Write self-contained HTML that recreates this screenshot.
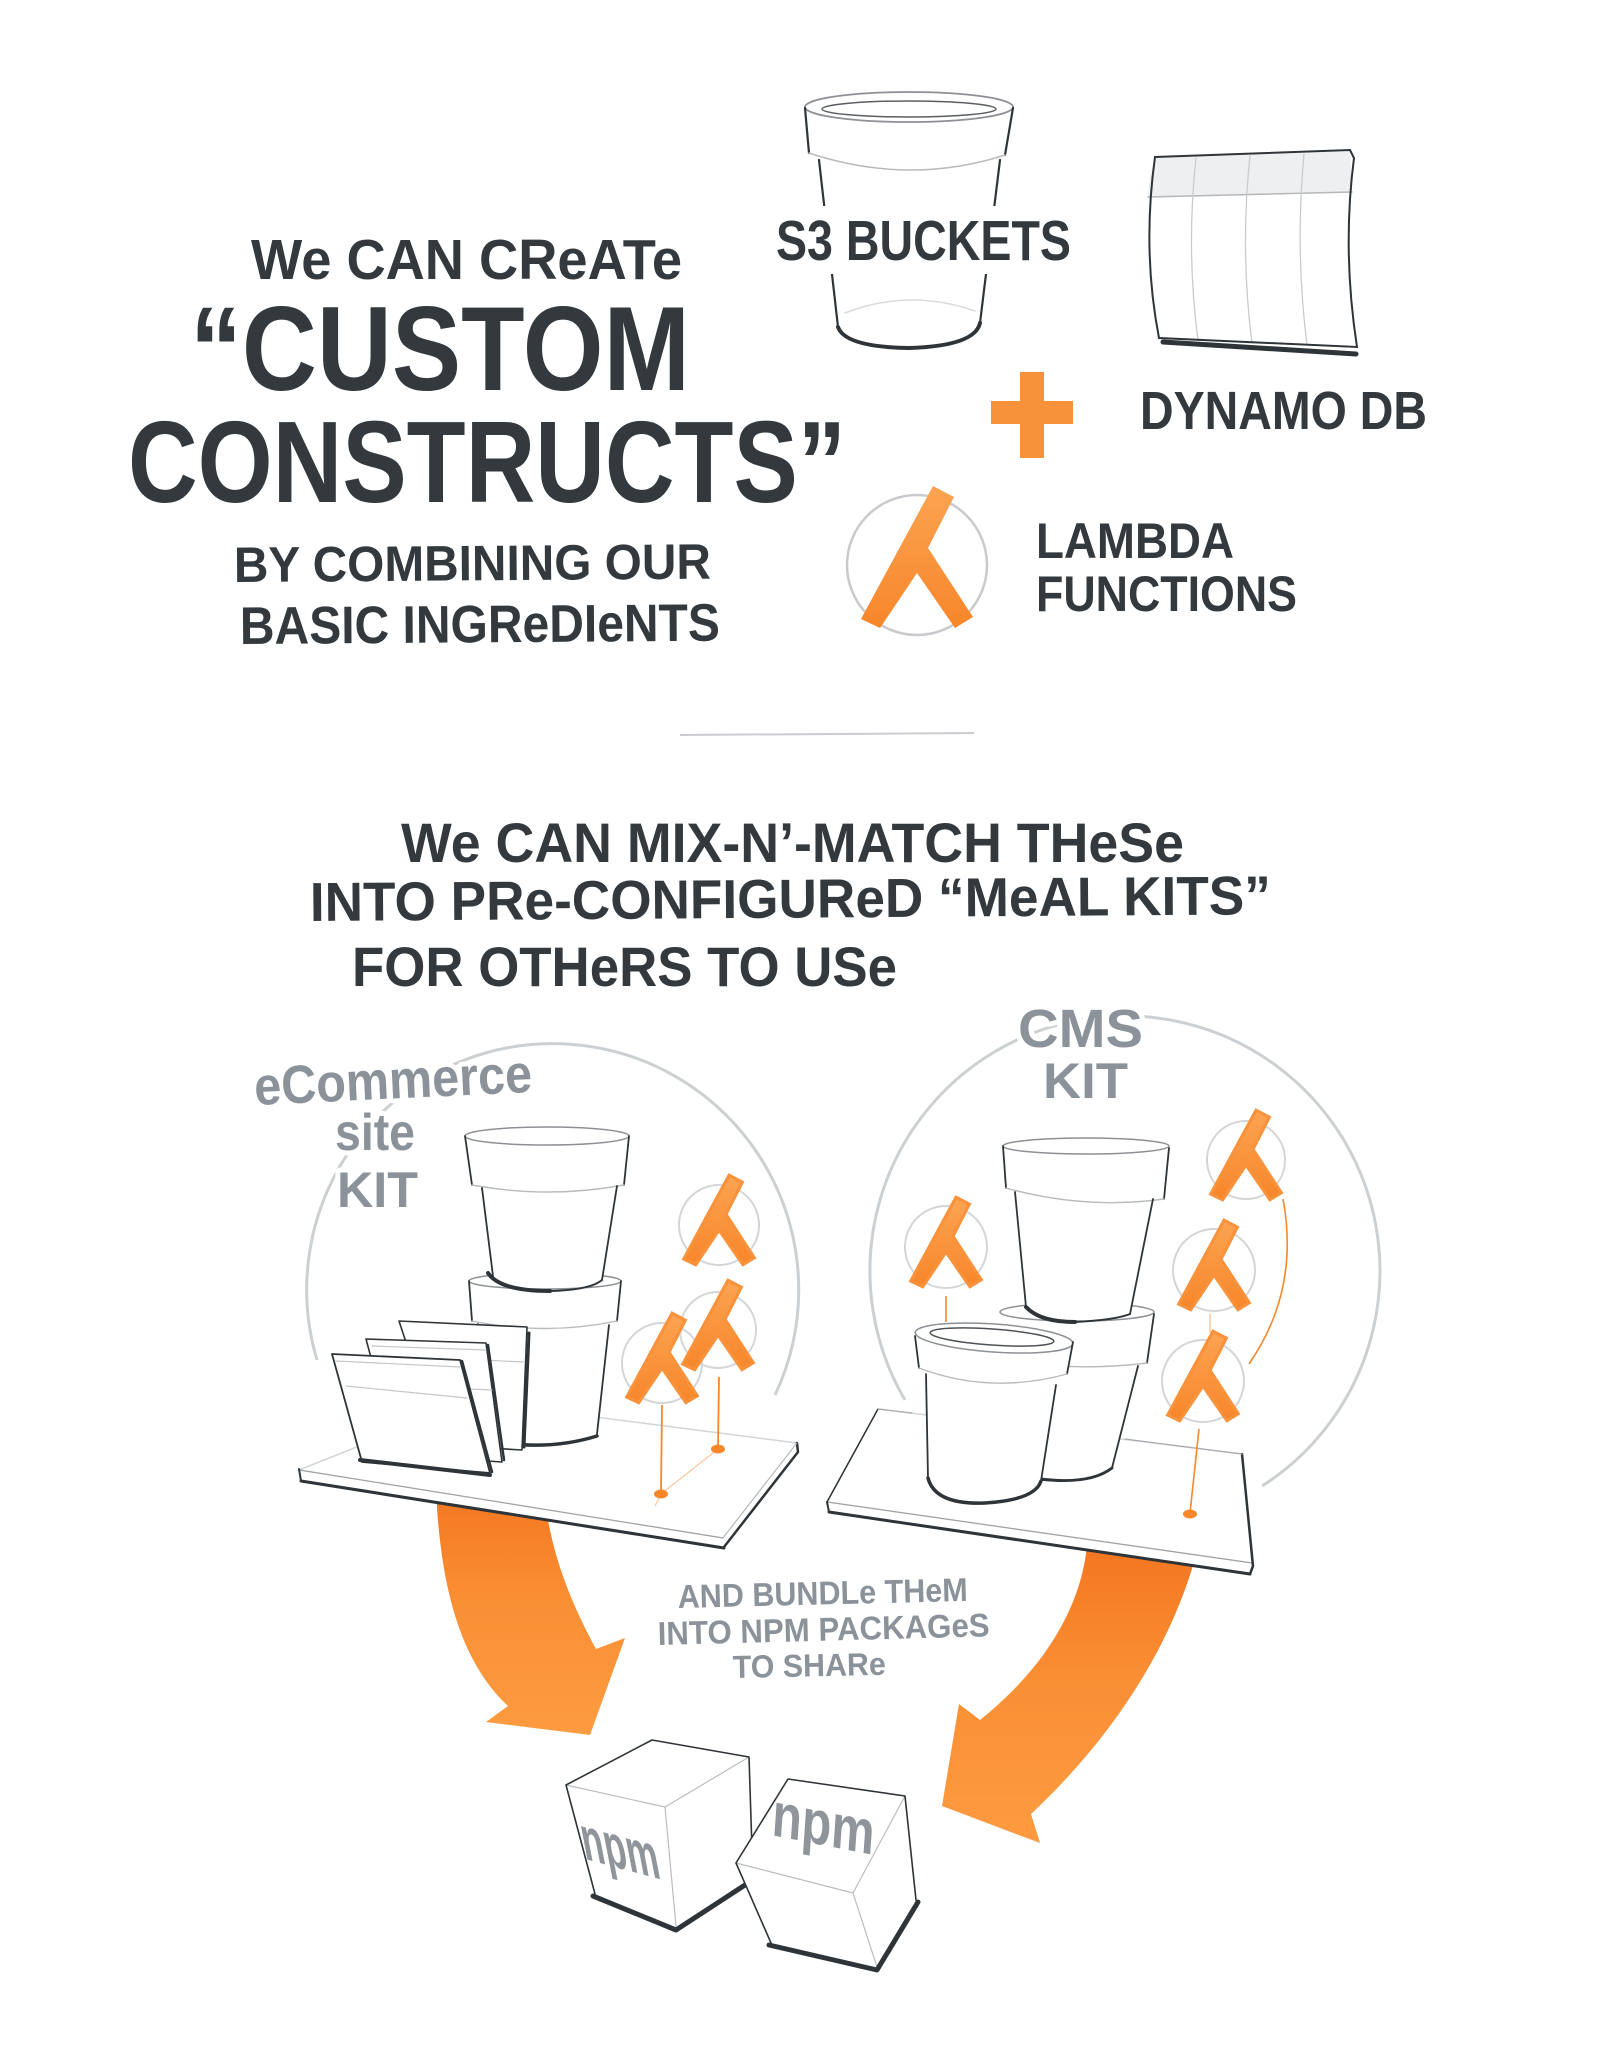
<!DOCTYPE html>
<html><head><meta charset="utf-8">
<style>
html,body{margin:0;padding:0;background:#fff;}
svg{display:block;}
.d{font-family:"Liberation Sans",sans-serif;font-weight:700;fill:#33393d;}
.g{font-family:"Liberation Sans",sans-serif;font-weight:700;fill:#8b9299;}
.h{stroke:#fff;stroke-width:10;paint-order:stroke;stroke-linejoin:round;}
</style></head><body>
<svg width="1600" height="2055" viewBox="0 0 1600 2055" xmlns="http://www.w3.org/2000/svg">
<defs>
 <linearGradient id="og" x1="0" y1="0" x2="0" y2="1"><stop offset="0" stop-color="#fca452"/><stop offset="1" stop-color="#f7862a"/></linearGradient>
 <linearGradient id="ag" x1="0" y1="0" x2="0" y2="1"><stop offset="0" stop-color="#f47620"/><stop offset="0.45" stop-color="#fa8f34"/><stop offset="1" stop-color="#fd9b40"/></linearGradient>
 <path id="lam" d="M16,-79 L37,-68 L11,-17 L56,52 L38,63 L0,8 L-37,63 L-56,54 Z"/>
</defs>
<rect width="1600" height="2055" fill="#fff"/>

<!-- ===== TOP TITLE ===== -->
<text class="d" x="251" y="279" font-size="57" textLength="431" lengthAdjust="spacingAndGlyphs">We CAN CReATe</text>
<text class="d" x="190" y="390" font-size="120" textLength="500" lengthAdjust="spacingAndGlyphs">“CUSTOM</text>
<text class="d" x="128" y="502" font-size="116" textLength="718" lengthAdjust="spacingAndGlyphs">CONSTRUCTS”</text>
<text class="d" x="234" y="582" font-size="50" textLength="477" lengthAdjust="spacingAndGlyphs" transform="rotate(-0.4 234 582)">BY COMBINING OUR</text>
<text class="d" x="240" y="644" font-size="53" textLength="480" lengthAdjust="spacingAndGlyphs" transform="rotate(-0.4 240 644)">BASIC INGReDIeNTS</text>

<!-- S3 bucket -->
<g fill="none" stroke-linecap="round">
 <path d="M819,158 L838,327 Q845,347 909,348 Q975,346 980,323 L1000,158 Z" fill="#fff"/>
 <path d="M805,108 L809,153 Q909,186 1005,155 L1013,108 Z" fill="#fff"/>
 <ellipse cx="909" cy="107" rx="104" ry="15" fill="#fff" stroke="#8d9195" stroke-width="1.8"/>
 <ellipse cx="909" cy="109" rx="87" ry="8" stroke="#5a5f63" stroke-width="1.5"/>
 <path d="M805,108 L809,153" stroke="#2f3438" stroke-width="2.2"/>
 <path d="M1013,108 L1005,155" stroke="#2f3438" stroke-width="2.2"/>
 <path d="M809,153 Q909,186 1005,155" stroke="#b8bbbe" stroke-width="1.5"/>
 <path d="M819,160 L838,327" stroke="#2f3438" stroke-width="2.2"/>
 <path d="M1000,160 L980,323" stroke="#2f3438" stroke-width="2.2"/>
 <path d="M838,327 Q845,347 909,348 Q975,346 980,323" stroke="#2f3438" stroke-width="4"/>
 <path d="M845,313 Q909,288 975,311" stroke="#d8dadc" stroke-width="1.5"/>
</g>
<rect x="772" y="206" width="305" height="68" fill="#fff"/>
<text class="d" x="776" y="260" font-size="57" textLength="295" lengthAdjust="spacingAndGlyphs">S3 BUCKETS</text>

<!-- DynamoDB table -->
<g fill="none" stroke-linecap="round">
 <path d="M1155,157 L1350,150 L1354,158 Q1342,250 1357,347 L1159,338 Q1142,250 1155,157 Z" fill="#fff"/>
 <path d="M1156,158 L1350,151 L1352,192 L1148,197 Q1149,175 1156,158 Z" fill="#eeeff0"/>
 <path d="M1148,197 L1352,192" stroke="#b5b8bb" stroke-width="1.5"/>
 <path d="M1196,158 Q1186,250 1198,340" stroke="#c9cccf" stroke-width="1.3"/>
 <path d="M1250,156 Q1240,250 1252,343" stroke="#c9cccf" stroke-width="1.3"/>
 <path d="M1304,154 Q1295,250 1307,345" stroke="#c9cccf" stroke-width="1.3"/>
 <path d="M1155,157 L1350,150 L1354,158 Q1342,250 1357,347 L1159,338 Q1142,250 1155,157 Z" stroke="#2f3438" stroke-width="2"/>
 <path d="M1163,342 L1356,354" stroke="#2f3438" stroke-width="5"/>
</g>

<!-- plus -->
<rect x="1020" y="372" width="24" height="86" fill="#f8923a"/>
<rect x="991" y="401" width="82" height="23" fill="#f8923a"/>
<text class="d" x="1140" y="429" font-size="54" textLength="287" lengthAdjust="spacingAndGlyphs">DYNAMO DB</text>

<!-- lambda -->
<circle cx="917" cy="565" r="70" fill="none" stroke="#c8cacd" stroke-width="2.5"/>
<use href="#lam" transform="translate(917,565)" fill="url(#og)"/>
<text class="d" x="1036" y="558" font-size="50" textLength="198" lengthAdjust="spacingAndGlyphs">LAMBDA</text>
<text class="d" x="1036" y="611" font-size="50" textLength="261" lengthAdjust="spacingAndGlyphs">FUNCTIONS</text>

<!-- separator -->
<path d="M680,735 L974,733" stroke="#c9ccd0" stroke-width="2" fill="none"/>

<!-- ===== MIDDLE TEXT ===== -->
<text class="d" x="401" y="862" font-size="56" textLength="783" lengthAdjust="spacingAndGlyphs">We CAN MIX-N’-MATCH THeSe</text>
<text class="d" x="310" y="921" font-size="55" textLength="961" lengthAdjust="spacingAndGlyphs" transform="rotate(-0.4 310 921)">INTO PRe-CONFIGUReD “MeAL KITS”</text>
<text class="d" x="352" y="986" font-size="56" textLength="545" lengthAdjust="spacingAndGlyphs">FOR OTHeRS TO USe</text>

<!-- ===== ARROWS ===== -->
<path d="M436,1490 C440,1580 458,1660 508,1706 L486,1722 L590,1735 L625,1638 L596,1649 C575,1610 552,1560 545,1500 Z" fill="url(#ag)"/>
<path d="M1087,1545 C1080,1620 1030,1680 980,1720 L959,1704 L942,1806 L1040,1843 L1031,1814 C1110,1740 1170,1650 1196,1555 Z" fill="url(#ag)"/>

<!-- ===== eCOMMERCE KIT ===== -->
<path d="M317,1360 A246,246 0 1,1 775,1395" fill="none" stroke="#cdd0d3" stroke-width="3"/>
<text class="g h" x="255" y="1105" font-size="54" textLength="278" lengthAdjust="spacingAndGlyphs" transform="rotate(-2.7 255 1105)">eCommerce</text>
<text class="g h" x="335" y="1150" font-size="52" textLength="80" lengthAdjust="spacingAndGlyphs">site</text>
<text class="g h" x="337" y="1207" font-size="50" textLength="81" lengthAdjust="spacingAndGlyphs">KIT</text>

<!-- platform -->
<g fill="none" stroke-linecap="round">
 <path d="M299,1470 L472,1401 L797,1443 L723,1538 Z" fill="#fff" stroke="#d3d6d9" stroke-width="1.5"/>
 <path d="M299,1470 L723,1538 L724,1548 L301,1481 Z" fill="#fff"/>
 <path d="M723,1538 L797,1443 L798,1452 L724,1548 Z" fill="#fff"/>
 <path d="M299,1470 L723,1538" stroke="#9ea2a6" stroke-width="1.2"/>
 <path d="M301,1481 L724,1548" stroke="#2f3438" stroke-width="3"/>
 <path d="M299,1469 L301,1481" stroke="#2f3438" stroke-width="2"/>
 <path d="M724,1547 L798,1452 L797,1443" stroke="#2f3438" stroke-width="2.5"/>
 <path d="M723,1538 L797,1443" stroke="#b0b4b7" stroke-width="1"/>
</g>

<!-- orange pins -->
<g fill="none" stroke="#f7872a" stroke-width="1.8">
 <path d="M662,1405 L661,1493"/>
 <path d="M719,1377 L718,1448"/>
 <path d="M661,1494 L718,1449 M661,1494 L655,1506" stroke="#fbc9a0" stroke-width="1.2"/>
</g>
<ellipse cx="661" cy="1494" rx="7" ry="4.5" fill="#f7872a"/>
<ellipse cx="718" cy="1449" rx="7" ry="4.5" fill="#f7872a"/>

<!-- lower bucket -->
<g fill="none" stroke-linecap="round">
 <path d="M478,1322 L490,1440 Q545,1452 597,1436 L609,1322 Z" fill="#fff"/>
 <path d="M469,1281 L472,1321 Q545,1336 617,1321 L621,1281 Z" fill="#fff"/>
 <ellipse cx="545" cy="1281" rx="76" ry="8" fill="#fff" stroke="#8d9195" stroke-width="1.5"/>
 <path d="M469,1281 L472,1321 M621,1281 L617,1321" stroke="#2f3438" stroke-width="1.8"/>
 <path d="M472,1321 Q545,1336 617,1321" stroke="#b8bbbe" stroke-width="1.4"/>
 <path d="M478,1324 L490,1440 M609,1325 L597,1434" stroke="#2f3438" stroke-width="1.8"/>
 <path d="M490,1440 Q545,1452 597,1436" stroke="#2f3438" stroke-width="3.5"/>
</g>
<!-- upper bucket -->
<g fill="none" stroke-linecap="round">
 <path d="M482,1187 L493,1276 Q545,1294 602,1280 L617,1186 Z" fill="#fff"/>
 <path d="M465,1136 L472,1185 Q548,1199 624,1185 L629,1136 Z" fill="#fff"/>
 <ellipse cx="547" cy="1136" rx="82" ry="9" fill="#fff" stroke="#8d9195" stroke-width="1.5"/>
 <path d="M465,1136 L472,1185 M629,1136 L624,1185" stroke="#2f3438" stroke-width="1.8"/>
 <path d="M472,1185 Q548,1199 624,1185" stroke="#b8bbbe" stroke-width="1.4"/>
 <path d="M482,1188 L493,1276 M617,1186 L602,1280" stroke="#2f3438" stroke-width="1.8"/>
 <path d="M488,1273 Q500,1291 550,1291" stroke="#2f3438" stroke-width="4"/>
 <path d="M550,1291 Q590,1290 602,1280" stroke="#2f3438" stroke-width="2"/>
</g>
<!-- cards -->
<g fill="none" stroke-linecap="round" stroke-linejoin="round">
 <path d="M399,1321 L527,1327 L522,1450 L440,1445 Z" fill="#fff" stroke="#2f3438" stroke-width="1.6"/>
 <path d="M529,1333 L524,1447" stroke="#2f3438" stroke-width="3"/>
 <path d="M440,1358 L523,1362" stroke="#c4c7ca" stroke-width="1.2"/>
 <path d="M366,1339 L486,1343 L502,1462 L397,1455 Z" fill="#fff" stroke="#2f3438" stroke-width="1.6"/>
 <path d="M372,1346 L486,1350 M380,1385 L492,1390" stroke="#c4c7ca" stroke-width="1.2"/>
 <path d="M488,1345 L504,1460" stroke="#2f3438" stroke-width="2.5"/>
 <path d="M332,1354 L460,1360 L490,1473 L362,1462 Z" fill="#fff" stroke="#2f3438" stroke-width="1.8"/>
 <path d="M336,1361 L460,1367 M346,1386 L467,1398" stroke="#c4c7ca" stroke-width="1.2"/>
 <path d="M462,1361 L492,1472" stroke="#2f3438" stroke-width="2.5"/>
 <path d="M360,1460 L490,1475" stroke="#2f3438" stroke-width="4"/>
</g>
<!-- eCommerce lambdas -->
<g fill="none" stroke="#d3d5d8" stroke-width="2">
 <circle cx="719" cy="1225" r="40"/>
 <circle cx="718" cy="1330" r="38"/>
 <circle cx="662" cy="1363" r="40"/>
</g>
<g fill="url(#og)" stroke="#f9923a" stroke-width="5" stroke-linejoin="miter">
 <use href="#lam" transform="translate(719,1225) scale(0.63)"/>
 <use href="#lam" transform="translate(718,1330) scale(0.63)"/>
 <use href="#lam" transform="translate(662,1363) scale(0.63)"/>
</g>

<!-- ===== CMS KIT ===== -->
<path d="M905,1400 A255,255 0 1,1 1262,1486" fill="none" stroke="#cdd0d3" stroke-width="3"/>
<text class="g h" x="1018" y="1047" font-size="54" textLength="125" lengthAdjust="spacingAndGlyphs">CMS</text>
<text class="g h" x="1043" y="1098" font-size="50" textLength="85" lengthAdjust="spacingAndGlyphs">KIT</text>

<g fill="none" stroke-linecap="round">
 <path d="M827,1502 L878,1409 L1242,1454 L1252,1563 Z" fill="#fff" stroke="#d3d6d9" stroke-width="1.5"/>
 <path d="M827,1502 L1252,1563 L1250,1574 L829,1512 Z" fill="#fff"/>
 <path d="M827,1502 L1252,1563" stroke="#9ea2a6" stroke-width="1.2"/>
 <path d="M829,1512 L1250,1574" stroke="#2f3438" stroke-width="3"/>
 <path d="M827,1502 L829,1512" stroke="#2f3438" stroke-width="2"/>
 <path d="M878,1409 L827,1502" stroke="#2f3438" stroke-width="1.5"/>
 <path d="M1242,1454 L1253,1566 L1250,1574" stroke="#2f3438" stroke-width="2.5"/>
 <path d="M878,1409 L912,1413 M1125,1439 L1242,1454" stroke="#a6aaae" stroke-width="1.2"/>
</g>

<g fill="none" stroke="#f7872a" stroke-width="1.6">
 <path d="M946,1296 L946,1322"/>
 <path d="M1199,1429 L1190,1513"/>
 <path d="M1283,1199 Q1300,1290 1249,1364"/>
 <path d="M1210,1314 L1210,1333" stroke="#fbc9a0"/>
</g>
<ellipse cx="1190" cy="1514" rx="7" ry="4.5" fill="#f7872a"/>

<!-- back-lower bucket -->
<g fill="none" stroke-linecap="round">
 <path d="M1004,1360 L1040,1479 Q1090,1485 1112,1468 L1140,1365 Z" fill="#fff"/>
 <path d="M1000,1312 L1004,1360 Q1075,1372 1147,1363 L1154,1314 Z" fill="#fff"/>
 <ellipse cx="1077" cy="1312" rx="77" ry="9" fill="#fff" stroke="#8d9195" stroke-width="1.5"/>
 <path d="M1154,1314 L1147,1363" stroke="#2f3438" stroke-width="1.8"/>
 <path d="M1004,1360 Q1075,1372 1147,1363" stroke="#b8bbbe" stroke-width="1.4"/>
 <path d="M1138,1366 L1112,1468" stroke="#2f3438" stroke-width="1.8"/>
 <path d="M1040,1479 Q1090,1485 1112,1468" stroke="#2f3438" stroke-width="3"/>
</g>
<!-- tall bucket -->
<g fill="none" stroke-linecap="round">
 <path d="M1015,1192 L1026,1307 Q1075,1325 1130,1314 L1153,1199 Z" fill="#fff"/>
 <path d="M1003,1146 L1006,1188 Q1085,1210 1164,1199 L1169,1148 Z" fill="#fff"/>
 <ellipse cx="1086" cy="1146" rx="83" ry="8" fill="#fff" stroke="#8d9195" stroke-width="1.5"/>
 <path d="M1003,1146 L1006,1188 M1169,1148 L1164,1199" stroke="#2f3438" stroke-width="1.8"/>
 <path d="M1006,1188 Q1085,1210 1164,1199" stroke="#b8bbbe" stroke-width="1.4"/>
 <path d="M1015,1192 L1026,1307 M1153,1199 L1130,1314" stroke="#2f3438" stroke-width="1.8"/>
 <path d="M1026,1307 Q1040,1322 1075,1322" stroke="#2f3438" stroke-width="4"/>
 <path d="M1075,1322 Q1115,1320 1130,1314" stroke="#2f3438" stroke-width="2"/>
</g>
<!-- front bucket -->
<g fill="none" stroke-linecap="round">
 <path d="M926,1374 L928,1478 Q935,1505 985,1503 Q1035,1500 1041,1481 L1056,1385 Z" fill="#fff"/>
 <path d="M915,1336 L919,1368 Q990,1395 1067,1374 L1073,1342 Z" fill="#fff"/>
 <ellipse cx="994" cy="1338" rx="79" ry="14" transform="rotate(4 994 1338)" fill="#fff" stroke="#8d9195" stroke-width="1.5"/>
 <ellipse cx="992" cy="1337" rx="62" ry="8" transform="rotate(4 992 1337)" stroke="#4d5256" stroke-width="1.5"/>
 <path d="M915,1336 L919,1368 M1073,1342 L1067,1374" stroke="#2f3438" stroke-width="1.8"/>
 <path d="M919,1368 Q990,1395 1067,1374" stroke="#b8bbbe" stroke-width="1.4"/>
 <path d="M926,1374 L928,1478 M1056,1385 L1041,1481" stroke="#2f3438" stroke-width="1.8"/>
 <path d="M928,1478 Q935,1505 985,1503 Q1035,1500 1041,1481" stroke="#2f3438" stroke-width="3.5"/>
</g>
<!-- CMS lambdas -->
<g fill="none" stroke="#d3d5d8" stroke-width="2">
 <circle cx="946" cy="1247" r="41"/>
 <circle cx="1246" cy="1160" r="39"/>
 <circle cx="1214" cy="1270" r="41"/>
 <circle cx="1203" cy="1381" r="41"/>
</g>
<g fill="url(#og)" stroke="#f9923a" stroke-width="5" stroke-linejoin="miter">
 <use href="#lam" transform="translate(946,1247) scale(0.63)"/>
 <use href="#lam" transform="translate(1246,1160) scale(0.63)"/>
 <use href="#lam" transform="translate(1214,1270) scale(0.63)"/>
 <use href="#lam" transform="translate(1203,1381) scale(0.63)"/>
</g>

<!-- ===== BUNDLE TEXT ===== -->
<text class="g h" x="678" y="1608" font-size="33" textLength="290" lengthAdjust="spacingAndGlyphs" transform="rotate(-1.4 678 1608)">AND BUNDLe THeM</text>
<text class="g h" x="658" y="1645" font-size="33" textLength="332" lengthAdjust="spacingAndGlyphs" transform="rotate(-1.5 658 1645)">INTO NPM PACKAGeS</text>
<text class="g h" x="733" y="1678" font-size="32" textLength="153" lengthAdjust="spacingAndGlyphs" transform="rotate(-1.2 733 1678)">TO SHARe</text>

<!-- ===== NPM BOXES ===== -->
<g fill="none" stroke-linecap="round" stroke-linejoin="round">
 <path d="M566,1785 L652,1740 L749,1757 L665,1807 Z" fill="#fff"/>
 <path d="M566,1785 L665,1807 L676,1926 L595,1894 Z" fill="#fff"/>
 <path d="M665,1807 L749,1757 L753,1881 L676,1926 Z" fill="#fff"/>
 <path d="M566,1785 L665,1807 L749,1757 M665,1807 L676,1926" stroke="#b9bdc1" stroke-width="1.2"/>
 <path d="M566,1785 L652,1740 L749,1757 L753,1881 M566,1785 L595,1894" stroke="#2f3438" stroke-width="1.6"/>
 <path d="M593,1896 L676,1930 L745,1885" stroke="#2f3438" stroke-width="5"/>
</g>
<text class="g" x="0" y="0" font-size="58" textLength="80" lengthAdjust="spacingAndGlyphs" transform="translate(585,1859) rotate(15) skewX(26)" style="fill:#8f959b">npm</text>
<g fill="none" stroke-linecap="round" stroke-linejoin="round">
 <path d="M736,1863 L788,1779 L905,1796 L853,1893 Z" fill="#fff"/>
 <path d="M736,1863 L853,1893 L877,1967 L771,1943 Z" fill="#fff"/>
 <path d="M853,1893 L905,1796 L916,1900 L877,1967 Z" fill="#fff"/>
 <path d="M736,1863 L853,1893 L905,1796 M853,1893 L877,1967" stroke="#b9bdc1" stroke-width="1.2"/>
 <path d="M736,1863 L788,1779 L905,1796 L916,1900 M736,1863 L771,1943" stroke="#2f3438" stroke-width="1.6"/>
 <path d="M769,1945 L877,1970 L918,1902" stroke="#2f3438" stroke-width="5"/>
</g>
<text class="g" x="0" y="0" font-size="62" textLength="104" lengthAdjust="spacingAndGlyphs" transform="translate(771,1835) rotate(11) skewX(7)" style="fill:#8f959b">npm</text>
</svg>
</body></html>
